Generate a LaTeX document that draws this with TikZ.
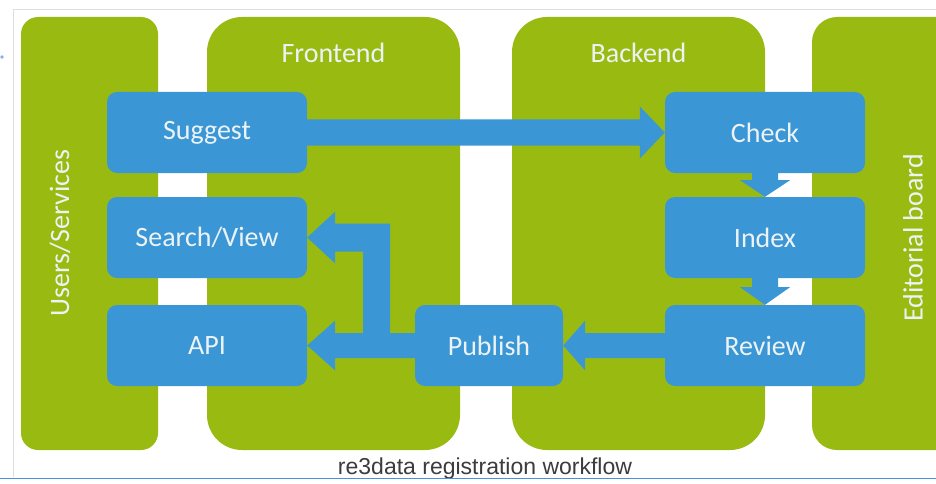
\documentclass[tikz,border=0pt]{standalone}
\usepackage{fontspec}
\setmainfont{Carlito}
\newfontfamily\capfont{Liberation Sans}
\usetikzlibrary{calc}
\definecolor{colgreen}{RGB}{153,187,17}
\definecolor{boxblue}{RGB}{58,150,212}
\definecolor{txtwhite}{RGB}{236,243,247}
\definecolor{framegrey}{RGB}{222,222,222}
\definecolor{lineblue}{RGB}{74,144,226}
\definecolor{capgrey}{RGB}{60,60,60}
\begin{document}
\begin{tikzpicture}[x=1pt,y=-1pt,
  box/.style={rectangle, rounded corners=10pt, fill=boxblue, text=txtwhite, minimum width=200pt, minimum height=81pt, inner sep=0pt, font=\fontsize{28}{32}\selectfont},
  lane/.style={fill=colgreen, inner sep=0pt, minimum height=433pt},
  lanelabel/.style={text=txtwhite, font=\fontsize{28}{32}\selectfont, inner sep=0pt},
  flow/.style={fill=boxblue}]
\useasboundingbox (0,0) rectangle (936,484);
\clip (0,0) rectangle (936,484);
\fill[white] (0,0) rectangle (936,484);
% frame
\draw[framegrey, line width=1pt] (13,477) -- (13,10) -- (936,10);
\fill[lineblue!70] (2,57) circle[radius=1.8pt];
% lanes
\node[lane, rounded corners=17pt, minimum width=137pt] (users) at (89.5,233.5) {};
\node[lane, rounded corners=35pt, minimum width=253pt] (frontend) at (333.5,233.5) {};
\node[lane, rounded corners=35pt, minimum width=253pt] (backend) at (638.5,233.5) {};
\node[lane, rounded corners=25pt, minimum width=150pt] (editorial) at (887,233.5) {};
% lane labels
\node[lanelabel, rotate=90] (userslbl) at (60,233) {Users/Services};
\node[lanelabel, rotate=90] (edlbl) at (913,238) {Editorial board};
\node[lanelabel, anchor=base] (felbl) at (333.5,63) {Frontend};
\node[lanelabel, anchor=base] (belbl) at (638.5,63) {Backend};
% boxes
\node[box] (suggest) at (207,132.5) {Suggest};
\node[box] (search) at (207,237.5) {Search/View};
\node[box] (api) at (207,345.5) {API};
\node[box] (check) at (765,132.5) {Check};
\node[box] (index) at (765,237.5) {Index};
\node[box] (review) at (765,345.5) {Review};
\node[box, minimum width=148pt] (publish) at (489,345.5) {Publish};
% Suggest -> Check
\fill[flow] ($(suggest.east)+(0,-13)$) -- ($(check.west)+(-25,-13)$) -- ($(check.west)+(-25,-26)$) -- (check.west) -- ($(check.west)+(-25,26)$) -- ($(check.west)+(-25,13)$) -- ($(suggest.east)+(0,13)$) -- cycle;
% Review -> Publish
\fill[flow] ($(review.west)+(0,-12.5)$) -- ($(publish.east)+(22,-12.5)$) -- ($(publish.east)+(22,-25)$) -- (publish.east) -- ($(publish.east)+(22,25)$) -- ($(publish.east)+(22,12.5)$) -- ($(review.west)+(0,12.5)$) -- cycle;
% Publish -> API
\fill[flow] ($(publish.west)+(0,-12.5)$) -- ($(api.east)+(28,-12.5)$) -- ($(api.east)+(28,-25)$) -- (api.east) -- ($(api.east)+(28,25)$) -- ($(api.east)+(28,12.5)$) -- ($(publish.west)+(0,12.5)$) -- cycle;
% Publish -> Search/View (branch)
\coordinate (brR) at ($(search.east)+(83,0)$);
\coordinate (brL) at ($(search.east)+(56,0)$);
\fill[flow] ($(search.east)+(83,-14)$) -- (brR |- api.east) -- (brL |- api.east) -- ($(search.east)+(56,14)$) -- ($(search.east)+(28,14)$) -- ($(search.east)+(28,26)$) -- (search.east) -- ($(search.east)+(28,-26)$) -- ($(search.east)+(28,-14)$) -- cycle;
% Check -> Index
\fill[flow] ($(check.south)+(-13,-1)$) -- ($(check.south)+(13,-1)$) -- ($(check.south)+(13,7)$) -- ($(check.south)+(25,7)$) -- (index.north) -- ($(check.south)+(-25,7)$) -- ($(check.south)+(-13,7)$) -- cycle;
% Index -> Review
\fill[flow] ($(index.south)+(-13,-1)$) -- ($(index.south)+(13,-1)$) -- ($(index.south)+(13,9)$) -- ($(index.south)+(25,9)$) -- (review.north) -- ($(index.south)+(-25,9)$) -- ($(index.south)+(-13,9)$) -- cycle;
% caption
\node[font=\capfont\fontsize{23}{26}\selectfont, text=capgrey, anchor=base, inner sep=0pt] (caption) at (485,474) {re3data registration workflow};
\draw[lineblue, line width=1.5pt] (0,478.5) -- (936,478.5);
\end{tikzpicture}
\end{document}
